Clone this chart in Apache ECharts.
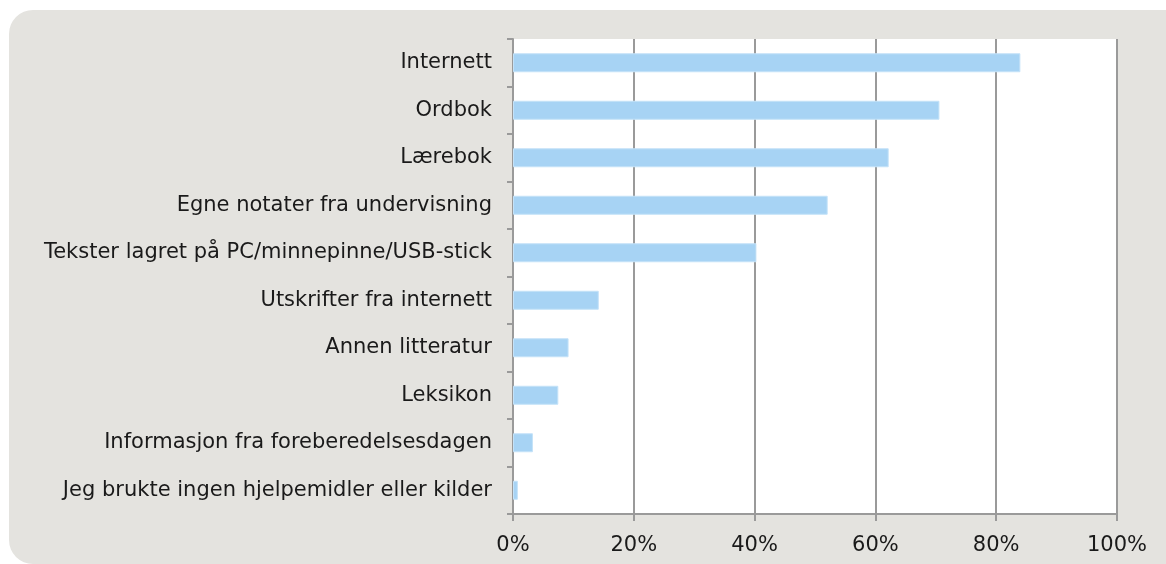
<!DOCTYPE html>
<html>
<head>
<meta charset="utf-8">
<script src="https://cdn.jsdelivr.net/npm/echarts@6/dist/echarts.min.js"></script>
<style>
  html, body { margin: 0; padding: 0; background: #ffffff; }
  #chart { width: 1166px; height: 564px; }
</style>
</head>
<body>
<div id="chart"></div>
<script>
// categories listed bottom to top (ECharts category y axis starts at the bottom)
const categories = [
    'Jeg brukte ingen hjelpemidler eller kilder',
    'Informasjon fra foreberedelsesdagen',
    'Leksikon',
    'Annen litteratur',
    'Utskrifter fra internett',
    'Tekster lagret på PC/minnepinne/USB-stick',
    'Egne notater fra undervisning',
    'Lærebok',
    'Ordbok',
    'Internett'
];
const shares = [0.8, 3.3, 7.5, 9.2, 14.2, 40.3, 52.1, 62.2, 70.6, 84.0];
const tickLabels = ['0%', '20%', '40%', '60%', '80%', '100%'];

const chart = echarts.init(document.getElementById('chart'), null, { renderer: 'canvas' });

const fontFamily = '"DejaVu Sans", Verdana, sans-serif';

const option = {
    animation: false,
    backgroundColor: '#ffffff',
    graphic: [
        {
            type: 'rect',
            z: -10,
            silent: true,
            shape: { x: 9, y: 10, width: 1190, height: 554, r: 24 },
            style: { fill: '#e4e3df' }
        },
        {
            type: 'rect',
            z: -5,
            silent: true,
            shape: { x: 513, y: 39, width: 604, height: 475 },
            style: { fill: '#ffffff' }
        }
    ],
    grid: {
        left: 513,
        right: 49,
        top: 39,
        bottom: 50,
        containLabel: false
    },
    xAxis: {
        type: 'value',
        min: 0,
        max: 100,
        interval: 20,
        axisLine: { show: true, lineStyle: { color: '#9a9a9a', width: 2 } },
        axisTick: { show: true, length: 7, lineStyle: { color: '#9a9a9a', width: 2 } },
        splitLine: { show: true, lineStyle: { color: '#9a9a9a', width: 2 } },
        axisLabel: {
            margin: 21,
            color: '#1a1a1a',
            fontSize: 21,
            fontFamily: fontFamily,
            formatter: (v) => tickLabels[Math.round(v / 20)]
        }
    },
    yAxis: {
        type: 'category',
        data: categories,
        axisLine: { show: true, lineStyle: { color: '#9a9a9a', width: 2 } },
        axisTick: { show: true, length: 6, lineStyle: { color: '#9a9a9a', width: 2 } },
        splitLine: { show: false },
        axisLabel: {
            margin: 21,
            color: '#1a1a1a',
            fontSize: 21,
            fontFamily: fontFamily
        }
    },
    series: [
        {
            name: 'Andel',
            type: 'bar',
            barWidth: 19,
            itemStyle: {
                color: '#a7d3f4',
                borderColor: '#c4e2f8',
                borderWidth: 1
            },
            data: shares
        }
    ]
};

chart.setOption(option);
</script>
</body>
</html>
